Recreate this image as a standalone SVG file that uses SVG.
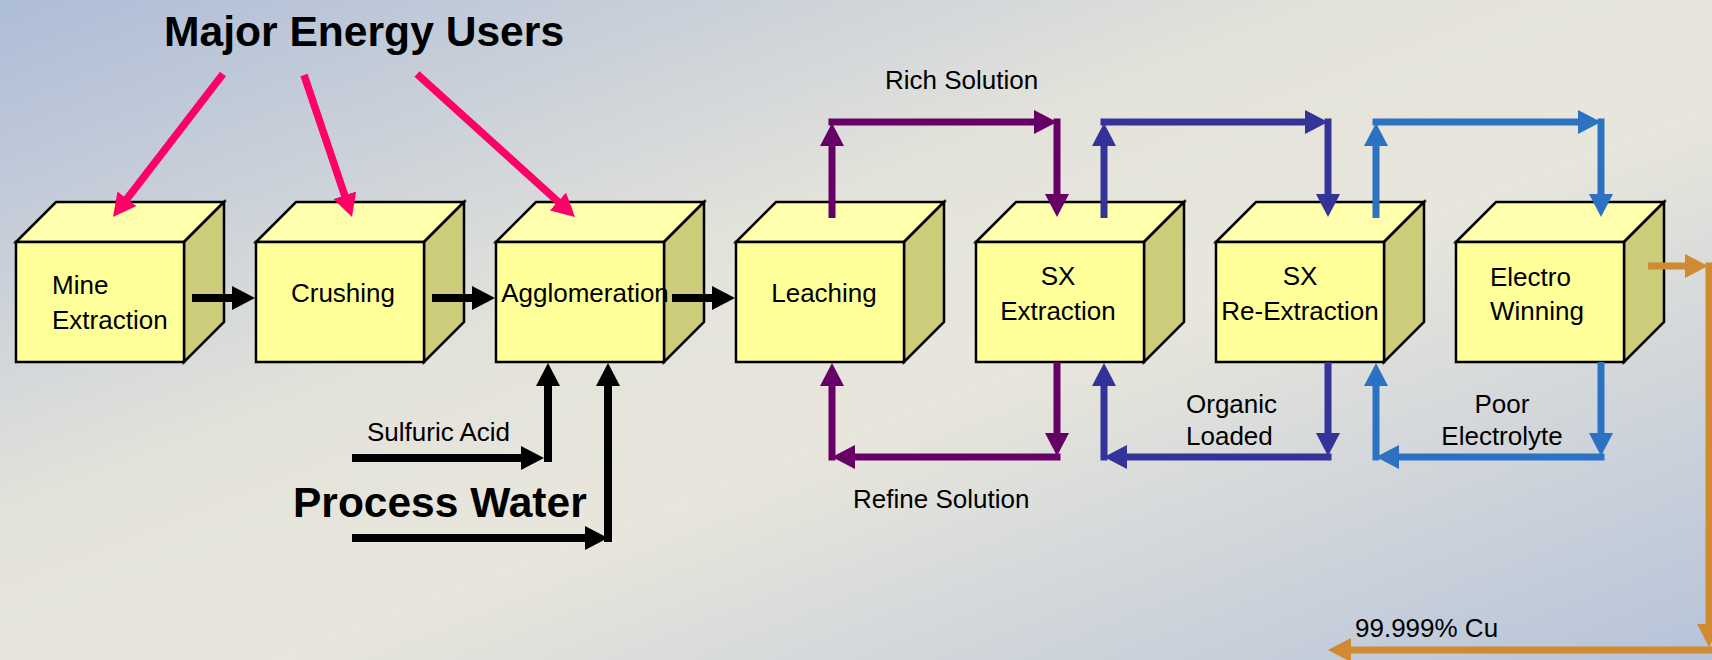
<svg xmlns="http://www.w3.org/2000/svg" width="1712" height="660" viewBox="0 0 1712 660">
<defs>
<linearGradient id="bg" gradientUnits="userSpaceOnUse" x1="0" y1="0" x2="443" y2="1149">
<stop offset="0" stop-color="#ADBCD7"/>
<stop offset="0.4" stop-color="#E4E3DB"/>
<stop offset="0.58" stop-color="#E8E6DC"/>
<stop offset="1" stop-color="#B6C3D9"/>
</linearGradient>
<marker id="hk" markerUnits="userSpaceOnUse" markerWidth="23" markerHeight="24" viewBox="0 0 23 24" refX="1" refY="12" orient="auto"><path d="M0,0 L23,12 L0,24 z" fill="#000"/></marker>
<marker id="hp" markerUnits="userSpaceOnUse" markerWidth="23" markerHeight="24" viewBox="0 0 23 24" refX="1" refY="12" orient="auto"><path d="M0,0 L23,12 L0,24 z" fill="#FF0066"/></marker>
<marker id="hv" markerUnits="userSpaceOnUse" markerWidth="23" markerHeight="24" viewBox="0 0 23 24" refX="1" refY="12" orient="auto"><path d="M0,0 L23,12 L0,24 z" fill="#660066"/></marker>
<marker id="hd" markerUnits="userSpaceOnUse" markerWidth="23" markerHeight="24" viewBox="0 0 23 24" refX="1" refY="12" orient="auto"><path d="M0,0 L23,12 L0,24 z" fill="#333399"/></marker>
<marker id="hl" markerUnits="userSpaceOnUse" markerWidth="23" markerHeight="24" viewBox="0 0 23 24" refX="1" refY="12" orient="auto"><path d="M0,0 L23,12 L0,24 z" fill="#2B72C2"/></marker>
<marker id="ho" markerUnits="userSpaceOnUse" markerWidth="23" markerHeight="24" viewBox="0 0 23 24" refX="1" refY="12" orient="auto"><path d="M0,0 L23,12 L0,24 z" fill="#D08A32"/></marker>
</defs>
<style>
.front{fill:#FFFF99;stroke:#000;stroke-width:2.5;stroke-linejoin:miter}
.top{fill:#FFFFAD;stroke:#000;stroke-width:2.5;stroke-linejoin:miter}
.side{fill:#CCCC7A;stroke:#000;stroke-width:2.5;stroke-linejoin:miter}
text{font-family:"Liberation Sans",Arial,sans-serif;font-size:26px;fill:#000}
.c{text-anchor:middle}
.big{font-weight:bold}
.k{fill:none;stroke:#000;stroke-width:8;marker-end:url(#hk)}
.p{fill:none;stroke:#FF0066;stroke-width:7.5;marker-end:url(#hp)}
.v{fill:none;stroke:#660066;stroke-width:7;marker-end:url(#hv)}
.d{fill:none;stroke:#333399;stroke-width:7;marker-end:url(#hd)}
.l{fill:none;stroke:#2B72C2;stroke-width:7;marker-end:url(#hl)}
.o{fill:none;stroke:#D08A32;stroke-width:7;marker-end:url(#ho)}
</style>
<rect x="0" y="0" width="1712" height="660" fill="url(#bg)"/>

<text class="big" x="164" y="46" style="font-size:42.6px">Major Energy Users</text>

<g id="mine">
<polygon class="top" points="16,242 56,202 224,202 184,242"/>
<polygon class="side" points="184,242 224,202 224,322 184,362"/>
<rect class="front" x="16" y="242" width="168" height="120"/>
<text x="52" y="294">Mine</text>
<text x="52" y="329">Extraction</text>
</g>
<g id="crushing">
<polygon class="top" points="256,242 296,202 464,202 424,242"/>
<polygon class="side" points="424,242 464,202 464,322 424,362"/>
<rect class="front" x="256" y="242" width="168" height="120"/>
<text class="c" x="343" y="302">Crushing</text>
</g>
<g id="agglomeration">
<polygon class="top" points="496,242 536,202 704,202 664,242"/>
<polygon class="side" points="664,242 704,202 704,322 664,362"/>
<rect class="front" x="496" y="242" width="168" height="120"/>
<text class="c" x="585" y="302">Agglomeration</text>
</g>
<g id="leaching">
<polygon class="top" points="736,242 776,202 944,202 904,242"/>
<polygon class="side" points="904,242 944,202 944,322 904,362"/>
<rect class="front" x="736" y="242" width="168" height="120"/>
<text class="c" x="824" y="302">Leaching</text>
</g>
<g id="sx-extraction">
<polygon class="top" points="976,242 1016,202 1184,202 1144,242"/>
<polygon class="side" points="1144,242 1184,202 1184,322 1144,362"/>
<rect class="front" x="976" y="242" width="168" height="120"/>
<text class="c" x="1058" y="285">SX</text>
<text class="c" x="1058" y="320">Extraction</text>
</g>
<g id="sx-reextraction">
<polygon class="top" points="1216,242 1256,202 1424,202 1384,242"/>
<polygon class="side" points="1384,242 1424,202 1424,322 1384,362"/>
<rect class="front" x="1216" y="242" width="168" height="120"/>
<text class="c" x="1300" y="285">SX</text>
<text class="c" x="1300" y="320">Re-Extraction</text>
</g>
<g id="electrowinning">
<polygon class="top" points="1456,242 1496,202 1664,202 1624,242"/>
<polygon class="side" points="1624,242 1664,202 1664,322 1624,362"/>
<rect class="front" x="1456" y="242" width="168" height="120"/>
<text x="1490" y="286">Electro</text>
<text x="1490" y="320">Winning</text>
</g>

<g id="connectors">
<path class="p" d="M223,74 L126.4,199.6"/>
<path class="p" d="M304,75 L345,196.2"/>
<path class="p" d="M417,74 L558.7,202.2"/>

<path class="k" d="M192,298 H233"/>
<path class="k" d="M432,298 H473"/>
<path class="k" d="M672,298 H713"/>
<path class="k" d="M352,458 H522"/>
<path class="k" d="M548,462 V385"/>
<path class="k" d="M352,538 H586"/>
<path class="k" d="M608,542 V385"/>

<path class="v" d="M832,218 V145"/>
<path class="v" d="M828.5,122 H1035"/>
<path class="v" d="M1057,118.5 V195"/>
<path class="v" d="M1057,362 V434"/>
<path class="v" d="M1060.5,457 H854"/>
<path class="v" d="M832,460.5 V385"/>

<path class="d" d="M1104,218 V145"/>
<path class="d" d="M1100.5,122 H1306"/>
<path class="d" d="M1328,118.5 V195"/>
<path class="d" d="M1328,362 V434"/>
<path class="d" d="M1331.5,457 H1126"/>
<path class="d" d="M1104,460.5 V385"/>

<path class="l" d="M1376,218 V145"/>
<path class="l" d="M1372.5,122 H1579"/>
<path class="l" d="M1601,118.5 V195"/>
<path class="l" d="M1601,362 V434"/>
<path class="l" d="M1604.5,457 H1398"/>
<path class="l" d="M1376,460.5 V385"/>

<path class="o" d="M1648,266 H1686"/>
<path class="o" d="M1709,262.5 V625"/>
<path class="o" d="M1712,650 H1350"/>
</g>

<text x="885" y="89">Rich Solution</text>
<text x="853" y="508">Refine Solution</text>
<text x="1186" y="413">Organic</text>
<text x="1186" y="445">Loaded</text>
<text class="c" x="1502" y="413">Poor</text>
<text class="c" x="1502" y="445">Electrolyte</text>
<text x="1355" y="637">99.999% Cu</text>
<text x="367" y="441">Sulfuric Acid</text>
<text class="big" x="293" y="517" style="font-size:42.5px">Process Water</text>
</svg>
